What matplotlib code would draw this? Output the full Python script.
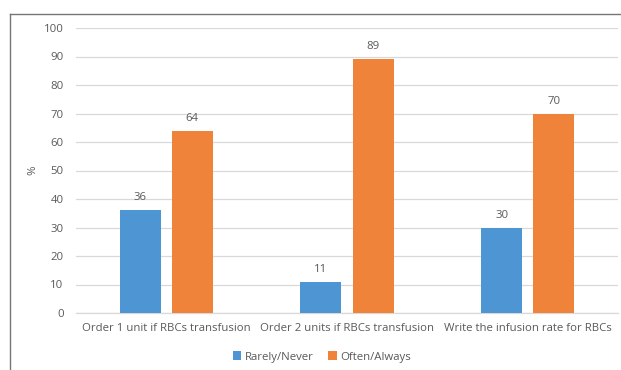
import numpy as np
import matplotlib.pyplot as plt
from matplotlib.lines import Line2D

plt.rcParams['font.family'] = ['Open Sans', 'DejaVu Sans']

categories = ["Order 1 unit if RBCs transfusion",
              "Order 2 units if RBCs transfusion",
              "Write the infusion rate for RBCs"]
rarely = [36, 11, 30]
often = [64, 89, 70]
series_names = ["Rarely/Never", "Often/Always"]

blue = "#4E96D3"
orange = "#F0833A"
txt = "#595959"
fs = 8.2

fig = plt.figure(figsize=(6.21, 3.70), dpi=100)
ax = fig.add_axes([76 / 621, 1 - 313 / 370, 542 / 621, 285 / 370])

x = np.arange(len(categories))
w = 0.227
off = 0.144
b1 = ax.bar(x - off, rarely, w, color=blue, label=series_names[0], zorder=3)
b2 = ax.bar(x + off, often, w, color=orange, label=series_names[1], zorder=3)

for bars in (b1, b2):
    ax.bar_label(bars, padding=5, fontsize=fs, color=txt)

ax.set_xlim(-0.5, 2.5)
ax.set_ylim(0, 100)
ax.set_yticks(range(0, 101, 10))
ax.set_xticks(x)
ax.set_xticklabels(categories)
ax.tick_params(axis='both', length=0, labelsize=fs, labelcolor=txt)
ax.tick_params(axis='y', pad=9)
ax.tick_params(axis='x', pad=7)
ax.grid(axis='y', color="#D9D9D9", linewidth=0.9, zorder=0)
for s in ("top", "right", "left"):
    ax.spines[s].set_visible(False)
ax.spines["bottom"].set_color("#D9D9D9")
ax.spines["bottom"].set_linewidth(0.9)

ax.set_ylabel("%", fontsize=fs, color=txt, labelpad=4)

fig.legend(loc="center", bbox_to_anchor=(0.518, 1 - 357 / 370), ncol=2,
           frameon=False, fontsize=fs, labelcolor=txt, handlelength=0.75,
           handleheight=0.75, handletextpad=0.3, columnspacing=1.3)

# outer chart border (top and left edges)
fig.add_artist(Line2D([10 / 621, 10 / 621], [0, 1 - 14 / 370],
                      color="#767676", linewidth=1.0))
fig.add_artist(Line2D([10 / 621, 1], [1 - 14 / 370, 1 - 14 / 370],
                      color="#767676", linewidth=1.0))

fig.savefig("out.png", dpi=100)
